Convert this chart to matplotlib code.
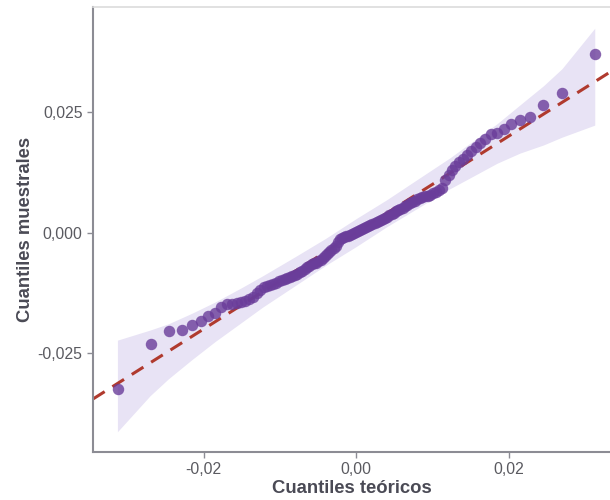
import matplotlib
matplotlib.use("Agg")
import matplotlib.pyplot as plt
from matplotlib.ticker import FuncFormatter

plt.rcParams['font.family'] = ['Liberation Sans', 'DejaVu Sans']

# cuantiles teoricos (eje x)
teoricos = [
    -0.03129, -0.02695, -0.02456, -0.02284, -0.02149, -0.02035, -0.01937, -0.01848,
    -0.01768, -0.01696, -0.01630, -0.01568, -0.01509, -0.01454, -0.01401, -0.01352,
    -0.01303, -0.01257, -0.01213, -0.01170, -0.01129, -0.01089, -0.01050, -0.01012,
    -0.00975, -0.00938, -0.00904, -0.00868, -0.00835, -0.00801, -0.00769, -0.00737,
    -0.00705, -0.00673, -0.00642, -0.00612, -0.00582, -0.00553, -0.00523, -0.00494,
    -0.00465, -0.00436, -0.00408, -0.00381, -0.00352, -0.00324, -0.00296, -0.00269,
    -0.00242, -0.00215, -0.00188, -0.00161, -0.00134, -0.00107, -0.00080, -0.00054,
    -0.00027, 0.0,
    0.00027, 0.00054, 0.00080, 0.00107, 0.00134, 0.00161, 0.00188, 0.00215,
    0.00242, 0.00269, 0.00296, 0.00324, 0.00352, 0.00381, 0.00408, 0.00436,
    0.00465, 0.00494, 0.00523, 0.00553, 0.00582, 0.00612, 0.00642, 0.00673,
    0.00705, 0.00737, 0.00769, 0.00801, 0.00835, 0.00868, 0.00904, 0.00938,
    0.00975, 0.01012, 0.01050, 0.01089, 0.01129, 0.01170, 0.01213, 0.01257,
    0.01303, 0.01352, 0.01401, 0.01454, 0.01509, 0.01568, 0.01630, 0.01696,
    0.01768, 0.01848, 0.01937, 0.02035, 0.02149, 0.02284, 0.02456, 0.02695,
    0.03129,
]

# cuantiles muestrales (eje y)
muestrales = [
    -0.0325, -0.0232, -0.0203, -0.0201, -0.0192, -0.0183, -0.0173, -0.0166,
    -0.0155, -0.0149, -0.0148, -0.0146, -0.0144, -0.0141, -0.0137, -0.0133,
    -0.0126, -0.0120, -0.0113, -0.0111, -0.0109, -0.0107, -0.0104, -0.0101,
    -0.0098, -0.0096, -0.0094, -0.0092, -0.0090, -0.0088, -0.0086, -0.0082,
    -0.0079, -0.0076, -0.0072, -0.0069, -0.0066, -0.0064, -0.0062, -0.0059,
    -0.0056, -0.0053, -0.0049, -0.0045, -0.0041, -0.0036, -0.0032, -0.0028,
    -0.0019, -0.0014, -0.0012, -0.0010, -0.0008, -0.0006, -0.0004, -0.0003,
    -0.0001, 0.0001,
    0.0003, 0.0005, 0.0007, 0.0010, 0.0012, 0.0014, 0.0016, 0.0018,
    0.0020, 0.0023, 0.0025, 0.0027, 0.0029, 0.0031, 0.0033, 0.0036,
    0.0038, 0.0041, 0.0044, 0.0047, 0.0050, 0.0052, 0.0055, 0.0058,
    0.0061, 0.0064, 0.0066, 0.0069, 0.0072, 0.0074, 0.0076, 0.0077,
    0.0079, 0.0082, 0.0085, 0.0089, 0.0093, 0.0110, 0.0120, 0.0130,
    0.0138, 0.0146, 0.0153, 0.0161, 0.0170, 0.0178, 0.0186, 0.0195,
    0.0205, 0.0206, 0.0214, 0.0226, 0.0234, 0.0239, 0.0265, 0.0289,
    0.0371,
]

# banda de confianza
banda_x = [-0.0313, -0.0270, -0.0246, -0.0215, -0.0185, -0.0150, -0.0123, -0.0080,
           -0.0040, 0.0, 0.0040, 0.0080, 0.0123, 0.0150, 0.0185, 0.0215, 0.0246,
           0.0270, 0.0313]
banda_inf = [-0.0413, -0.0338, -0.0303, -0.0263, -0.0226, -0.0186, -0.0155, -0.0110,
             -0.0068, -0.0029, 0.0012, 0.0050, 0.0091, 0.0114, 0.0144, 0.0165, 0.0182,
             0.0198, 0.0223]
banda_sup = [-0.0223, -0.0202, -0.0189, -0.0167, -0.0144, -0.0114, -0.0090, -0.0050,
             -0.0012, 0.0029, 0.0068, 0.0110, 0.0155, 0.0186, 0.0226, 0.0265, 0.0305,
             0.0340, 0.0424]

# recta de referencia
intercepto = 0.0
pendiente = 1.0

fig = plt.figure(figsize=(6.1, 5.0), dpi=100)
ax = fig.add_axes([0.1525, 0.096, 0.8475, 0.89])

ax.fill_between(banda_x, banda_inf, banda_sup, color='#e8e3f5', lw=0, zorder=1)
ax.axline((0, intercepto), slope=pendiente, color='#b03a2e', lw=2.2,
          dashes=(4.5, 3), zorder=2)
ax.scatter(teoricos, muestrales, s=68, color='#6a3d9a', alpha=0.8,
           linewidths=0, zorder=3)

ax.set_xlim(-0.0345, 0.0333)
ax.set_ylim(-0.0455, 0.0468)
ax.set_xticks([-0.02, 0.0, 0.02])
ax.set_yticks([-0.025, 0.0, 0.025])
ax.xaxis.set_major_formatter(FuncFormatter(lambda v, p: f"{v:.2f}".replace('.', ',')))
ax.yaxis.set_major_formatter(FuncFormatter(lambda v, p: f"{v:.3f}".replace('.', ',')))

for lado in ['left', 'bottom']:
    ax.spines[lado].set_color('#8c8c94')
    ax.spines[lado].set_linewidth(1.5)
ax.spines['top'].set_color('#dcdcdc')
ax.spines['top'].set_linewidth(1.2)
ax.spines['right'].set_visible(False)

ax.tick_params(colors='#8c8c94', labelcolor='#5a5a60', labelsize=11.3,
               length=4, width=1)

ax.set_xlabel('Cuantiles teóricos', fontsize=13.3, fontweight='bold',
              color='#4a4a55', labelpad=2)
ax.set_ylabel('Cuantiles muestrales', fontsize=13.3, fontweight='bold',
              color='#4a4a55', labelpad=2.5)

fig.savefig('out.png', dpi=100)
